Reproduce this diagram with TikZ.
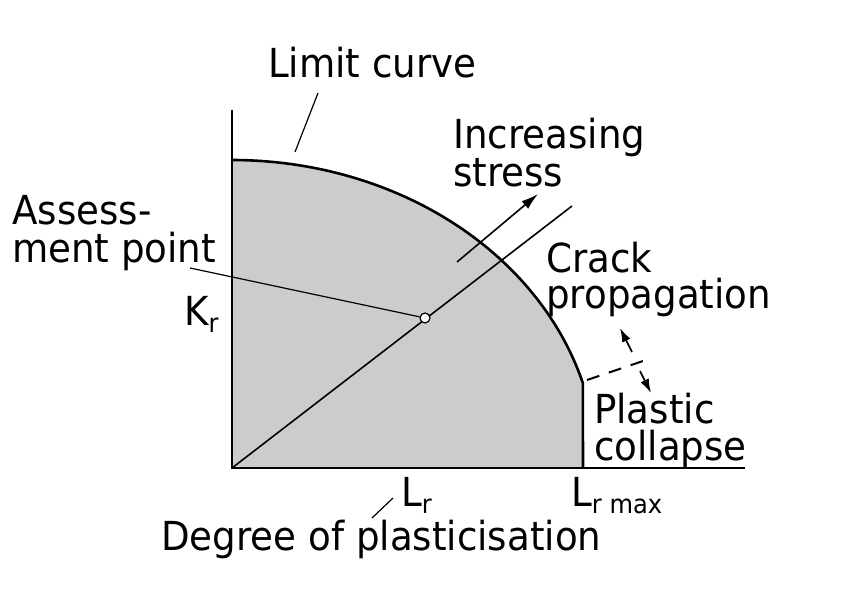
\documentclass[tikz,border=0pt]{standalone}
\usepackage{fontspec}
\setmainfont{DejaVu Sans}[FakeStretch=0.93]
\usetikzlibrary{arrows.meta}
\newcommand{\bigtxt}{\fontsize{40}{46}\selectfont}
\newcommand{\subtxt}[1]{\raisebox{-7pt}{\fontsize{26}{30}\selectfont #1}}
\begin{document}
\begin{tikzpicture}[x=1pt,y=-1pt,
  lbl/.style={anchor=base west,inner sep=0pt,font=\bigtxt},
  axis/.style={line width=2.8pt},
  limitline/.style={line width=2.6pt,line join=round},
  thinline/.style={line width=1.6pt},
  leader/.style={line width=1.2pt}]
\path[use as bounding box] (0,0) rectangle (843,596);
% coordinates
\coordinate (O) at (232,468);
\coordinate (ytop) at (232,110);
\coordinate (xend) at (745,468);
\coordinate (ctop) at (232,160);
\coordinate (cend) at (583,383);
\coordinate (cbot) at (583,468);
% filled region
\fill[gray!40] (O) -- (ctop) -- plot[domain=-90:-16.02,samples=80] ({232+365*cos(\x)},{468+308*sin(\x)}) -- (cbot) -- cycle;
% limit curve
\draw[limitline] plot[domain=-90:-16.02,samples=80] ({232+365*cos(\x)},{468+308*sin(\x)}) -- (cbot);
% axes
\draw[axis] (ytop) -- (O) -- (xend);
% diagonal
\coordinate (dend) at (572,206);
\draw[thinline] (O) -- (dend);
% increasing stress arrow
\coordinate (a1) at (457,262);
\coordinate (a2) at (538,194);
\draw[thinline,-{Latex[length=17pt,width=10pt]}] (a1) -- (a2);
% assessment point
\node[circle,draw,fill=white,line width=1.2pt,minimum size=10pt,inner sep=0pt] (ap) at (425,318) {};
\coordinate (apl) at (190,268);
\draw[leader] (apl) -- (ap);
% limit curve leader
\coordinate (lc1) at (318,93);
\coordinate (lc2) at (295,152);
\draw[leader] (lc1) -- (lc2);
% dashed boundary
\coordinate (d1) at (587,380);
\coordinate (d2) at (646,360);
\draw[line width=2pt,dash pattern=on 13pt off 10pt] (d1) -- (d2);
% double arrows
\coordinate (u1) at (632,352);
\coordinate (u2) at (620,328);
\coordinate (w1) at (640,371);
\coordinate (w2) at (651,393);
\draw[thinline,-{Latex[length=14pt,width=9pt]}] (u1) -- (u2);
\draw[thinline,-{Latex[length=14pt,width=9pt]}] (w1) -- (w2);
% Lr leader
\coordinate (lr1) at (372,518);
\coordinate (lr2) at (393,498);
\draw[leader] (lr1) -- (lr2);
% texts
\node[lbl] (limit) at (268,78) {Limit curve};
\node[lbl] (incr) at (453,149) {Increasing};
\node[lbl] (stress) at (453,187) {stress};
\node[lbl] (assess) at (12,225) {Assess-};
\node[lbl] (ment) at (12,262) {ment point};
\node[lbl] (crack) at (546,272) {Crack};
\node[lbl] (prop) at (546,308) {propagation};
\node[lbl] (kr) at (184,325) {K\subtxt{r}};
\node[lbl] (plastic) at (594,423) {Plastic};
\node[lbl] (collapse) at (594,460) {collapse};
\node[lbl] (lr) at (401,506) {L\subtxt{r}};
\node[lbl] (lrmax) at (571,506) {L\subtxt{r max}};
\node[lbl] (degree) at (161,550) {Degree of plasticisation};
\end{tikzpicture}
\end{document}
